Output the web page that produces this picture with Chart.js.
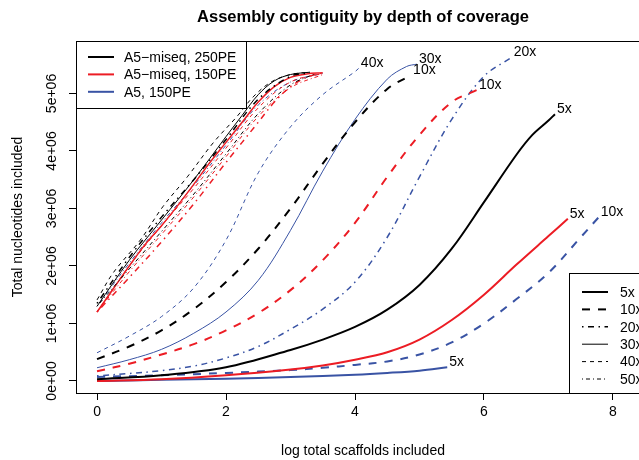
<!DOCTYPE html>
<html>
<head>
<meta charset="utf-8">
<script src="https://cdn.jsdelivr.net/npm/chart.js@4.4.1/dist/chart.umd.min.js"></script>
<style>
  html, body { margin: 0; padding: 0; background: #fff; overflow: hidden; }
  #wrap { width: 639px; height: 460px; overflow: hidden; }
</style>
</head>
<body>
<div id="wrap"><canvas id="contigChart" width="700" height="460"></canvas></div>
<script>
let contigChart; // global chart

const assemblers = ['A5\u2212miseq, 250PE', 'A5\u2212miseq, 150PE', 'A5, 150PE'];
const coverages = ['5x', '10x', '20x', '30x', '40x', '50x'];

const xTicks = [0, 2, 4, 6, 8];
const yTicks = [0, 1e6, 2e6, 3e6, 4e6, 5e6];
const yTickLabels = ['0e+00', '1e+06', '2e+06', '3e+06', '4e+06', '5e+06'];

// y values are in millions of nucleotides
// A5-miseq, 250PE (black)
const blk5x  = [0, 1, 2, 3, 3.5, 4, 4.5, 5, 5.5, 6, 6.5, 6.75, 7, 7.1];
const blk5y  = [0.03, 0.1, 0.24, 0.54, 0.72, 0.94, 1.24, 1.67, 2.3, 3.11, 3.93, 4.28, 4.53, 4.64];
const blk10x = [0, 0.5, 1, 1.5, 2, 2.5, 3, 3.5, 4, 4.5, 4.87];
const blk10y = [0.38, 0.6, 0.88, 1.25, 1.72, 2.3, 3.0, 3.78, 4.5, 5.08, 5.32];
const blk20x = [0, 0.5, 1, 1.5, 2, 2.5, 3, 3.3];
const blk20y = [1.35, 2.15, 2.85, 3.5, 4.2, 4.9, 5.3, 5.36];
const blk30x = [0, 0.5, 1, 1.5, 2, 2.25, 2.5, 2.75, 3, 3.3];
const blk30y = [1.3, 2.1, 2.8, 3.5, 4.25, 4.62, 4.98, 5.22, 5.33, 5.37];
const blk40x = [0, 0.25, 0.67, 1.02, 1.4, 1.8, 2.17, 2.42, 2.7, 3.0, 3.3];
const blk40y = [1.41, 1.88, 2.45, 3.03, 3.55, 4.14, 4.6, 4.94, 5.2, 5.33, 5.37];
const blk50x = [0, 0.5, 1, 1.5, 2, 2.5, 3, 3.4];
const blk50y = [1.3, 1.95, 2.6, 3.25, 3.95, 4.65, 5.15, 5.35];

// A5-miseq, 150PE (red)
const red5x  = [0, 1, 2, 3, 3.5, 4, 4.5, 5, 5.5, 6, 6.5, 7, 7.3];
const red5y  = [0, 0.03, 0.1, 0.2, 0.27, 0.37, 0.5, 0.72, 1.06, 1.5, 2.02, 2.52, 2.82];
const red10x = [0, 0.5, 1, 1.5, 2, 2.5, 3, 3.5, 4, 4.5, 5, 5.5, 5.89];
const red10y = [0.17, 0.3, 0.46, 0.64, 0.88, 1.18, 1.58, 2.1, 2.75, 3.55, 4.28, 4.85, 5.06];
const red20x = [0, 0.5, 1, 1.5, 2, 2.5, 2.75, 3, 3.25, 3.5];
const red20y = [1.2, 1.8, 2.42, 3.08, 3.8, 4.5, 4.85, 5.12, 5.28, 5.36];
const red30x = [0, 0.25, 0.5, 0.75, 1, 1.25, 1.5, 1.75, 2, 2.25, 2.5, 2.75, 3, 3.25, 3.5];
const red30y = [1.2, 1.6, 2.0, 2.38, 2.7, 3.05, 3.42, 3.8, 4.15, 4.5, 4.85, 5.12, 5.28, 5.34, 5.36];
const red40x = [0, 0.5, 1, 1.5, 2, 2.5, 3, 3.5];
const red40y = [1.2, 2.0, 2.7, 3.35, 4.05, 4.75, 5.2, 5.35];
const red50x = [0, 0.5, 1, 1.5, 2, 2.5, 3, 3.5];
const red50y = [1.2, 1.9, 2.55, 3.2, 3.9, 4.6, 5.1, 5.33];

// A5, 150PE (blue)
const blu5x  = [0, 1, 2, 3, 4, 4.5, 5, 5.43];
const blu5y  = [0, 0.02, 0.04, 0.07, 0.11, 0.14, 0.18, 0.24];
const blu10x = [0, 1, 2, 3, 3.5, 4, 4.5, 5, 5.5, 6, 6.5, 7, 7.5, 7.78];
const blu10y = [0.07, 0.1, 0.14, 0.19, 0.23, 0.28, 0.34, 0.46, 0.67, 1.0, 1.42, 1.88, 2.5, 2.85];
const blu20x = [0, 0.5, 1, 1.5, 2, 2.5, 3, 3.5, 4, 4.5, 5, 5.5, 6, 6.43];
const blu20y = [0.09, 0.13, 0.18, 0.26, 0.4, 0.6, 0.9, 1.25, 1.72, 2.5, 3.55, 4.55, 5.3, 5.63];
const blu30x = [0, 0.5, 1, 1.5, 2, 2.5, 3, 3.5, 4, 4.5, 4.8, 4.96];
const blu30y = [0.23, 0.37, 0.55, 0.83, 1.2, 1.75, 2.62, 3.65, 4.55, 5.25, 5.47, 5.51];
const blu40x = [0, 0.5, 1, 1.5, 2, 2.5, 3, 3.5, 4, 4.06];
const blu40y = [0.49, 0.78, 1.12, 1.62, 2.45, 3.62, 4.42, 4.98, 5.38, 5.44];
const blu50x = [0, 0.5, 1, 1.5, 2, 2.5, 3, 3.5];
const blu50y = [1.3, 2.05, 2.75, 3.4, 4.1, 4.8, 5.2, 5.35];

// curves that carry a coverage tag at their end
const taggedCurves = ['blk5', 'blk10', 'red5', 'red10', 'blu5', 'blu10', 'blu20', 'blu30', 'blu40'];

const colors = ['#000000', '#EC1C24', '#3953A4'];
const lineWidths = [2, 2, 1.5, 1, 1, 1];
const lineDashes = [[], [8, 8], [1.5, 4.5, 6, 4.5], [], [4, 4], [1, 3, 4, 3]];
const FONT = '"Liberation Sans", Arial, Helvetica, sans-serif';

const curves = {
    blk5: [blk5x, blk5y], blk10: [blk10x, blk10y], blk20: [blk20x, blk20y],
    blk30: [blk30x, blk30y], blk40: [blk40x, blk40y], blk50: [blk50x, blk50y],
    red5: [red5x, red5y], red10: [red10x, red10y], red20: [red20x, red20y],
    red30: [red30x, red30y], red40: [red40x, red40y], red50: [red50x, red50y],
    blu5: [blu5x, blu5y], blu10: [blu10x, blu10y], blu20: [blu20x, blu20y],
    blu30: [blu30x, blu30y], blu40: [blu40x, blu40y], blu50: [blu50x, blu50y]
};
const prefixes = ['blk', 'red', 'blu'];

function buildDatasets() {
    const sets = [];
    prefixes.forEach((p, a) => {
        coverages.forEach((cov, c) => {
            const key = p + parseInt(cov);
            const [xs, ys] = curves[key];
            sets.push({
                label: assemblers[a] + ' ' + cov,
                data: xs.map((x, i) => ({ x: x, y: ys[i] * 1e6 })),
                showLine: true,
                borderColor: colors[a],
                borderWidth: lineWidths[c] * (a === 1 && c === 3 ? 1.5 : 1),
                borderDash: lineDashes[c],
                borderCapStyle: 'butt',
                pointRadius: 0,
                tension: 0.35,
                tag: taggedCurves.includes(key) ? cov : null
            });
        });
    });
    return sets;
}

// coverage tags at the end of the curves
const curveTags = {
    id: 'curveTags',
    afterDatasetsDraw(chart) {
        const ctx = chart.ctx;
        ctx.save();
        ctx.font = '14px ' + FONT;
        ctx.fillStyle = '#000';
        ctx.textAlign = 'left';
        ctx.textBaseline = 'alphabetic';
        chart.data.datasets.forEach((ds, i) => {
            if (!ds.tag) return;
            const pts = chart.getDatasetMeta(i).data;
            const last = pts[pts.length - 1];
            ctx.fillText(ds.tag, last.x + 2, last.y - 1);
        });
        ctx.restore();
    }
};

// box, rotated y tick labels and the two legends
const frameAndLegends = {
    id: 'frameAndLegends',
    afterDraw(chart) {
        const ctx = chart.ctx;
        const area = chart.chartArea;
        const L = Math.round(area.left), T = Math.round(area.top);
        const R = Math.round(area.right), B = Math.round(area.bottom);
        ctx.save();
        ctx.strokeStyle = '#000';
        ctx.lineWidth = 1;
        ctx.setLineDash([]);
        ctx.strokeRect(L + 0.5, T + 0.5, R - L, B - T);

        // y tick labels, parallel to the axis
        ctx.font = '14px ' + FONT;
        ctx.fillStyle = '#000';
        const ys = chart.scales.y;
        yTicks.forEach((v, i) => {
            ctx.save();
            ctx.translate(L - 24, ys.getPixelForValue(v));
            ctx.rotate(-Math.PI / 2);
            ctx.textAlign = 'center';
            ctx.textBaseline = 'middle';
            ctx.fillText(yTickLabels[i], 0, 0);
            ctx.restore();
        });

        // legend of assemblers (top left)
        const rowH = 17.4;
        ctx.fillStyle = '#fff';
        ctx.fillRect(L + 0.5, T + 0.5, 170, 67);
        ctx.strokeRect(L + 0.5, T + 0.5, 170, 67);
        ctx.textAlign = 'left';
        ctx.textBaseline = 'middle';
        assemblers.forEach((name, i) => {
            const y = T + 16 + i * rowH;
            ctx.strokeStyle = colors[i];
            ctx.lineWidth = 2;
            ctx.beginPath();
            ctx.moveTo(L + 12, y);
            ctx.lineTo(L + 38, y);
            ctx.stroke();
            ctx.fillStyle = '#000';
            ctx.fillText(name, L + 48, y + 1);
        });

        // legend of coverages (bottom right)
        const bx = 569, by = 273;
        ctx.fillStyle = '#fff';
        ctx.fillRect(bx + 0.5, by + 0.5, R - bx, B - by);
        ctx.strokeStyle = '#000';
        ctx.lineWidth = 1;
        ctx.strokeRect(bx + 0.5, by + 0.5, R - bx, B - by);
        coverages.forEach((cov, i) => {
            const y = by + 19 + i * rowH;
            ctx.strokeStyle = '#000';
            ctx.lineWidth = lineWidths[i];
            ctx.setLineDash(lineDashes[i]);
            ctx.beginPath();
            ctx.moveTo(bx + 13, y);
            ctx.lineTo(bx + 39, y);
            ctx.stroke();
            ctx.setLineDash([]);
            ctx.fillStyle = '#000';
            ctx.fillText(cov, bx + 51, y + 1);
        });
        ctx.restore();
    }
};

function drawChart() {
    if (contigChart) {
        contigChart.destroy();
    }
    const ctx = document.getElementById('contigChart').getContext('2d');
    contigChart = new Chart(ctx, {
        type: 'scatter',
        data: { datasets: buildDatasets() },
        options: {
            responsive: false,
            animation: false,
            devicePixelRatio: 1,
            events: [],
            layout: { padding: { left: 0, top: 0, right: 50, bottom: 0 } },
            scales: {
                x: {
                    type: 'linear',
                    min: -0.326,
                    max: 8.574,
                    afterBuildTicks: s => { s.ticks = xTicks.map(v => ({ value: v })); },
                    afterFit: s => { s.height = 67; },
                    grid: { drawOnChartArea: false, drawTicks: true, tickLength: 7, color: '#000' },
                    border: { display: false },
                    ticks: { color: '#000', padding: 4, maxRotation: 0, font: { family: FONT, size: 14 } },
                    title: {
                        display: true,
                        text: 'log total scaffolds included',
                        color: '#000',
                        font: { family: FONT, size: 14 },
                        padding: { top: 0, bottom: 0 }
                    }
                },
                y: {
                    type: 'linear',
                    min: -0.209e6,
                    max: 5.913e6,
                    afterBuildTicks: s => { s.ticks = yTicks.map(v => ({ value: v })); },
                    afterFit: s => { s.width = 76; },
                    grid: { drawOnChartArea: false, drawTicks: true, tickLength: 7, color: '#000' },
                    border: { display: false },
                    ticks: { display: false },
                    title: {
                        display: true,
                        text: 'Total nucleotides included',
                        color: '#000',
                        font: { family: FONT, size: 14 },
                        padding: { top: 10, bottom: 0 }
                    }
                }
            },
            plugins: {
                legend: { display: false },
                tooltip: { enabled: false },
                title: {
                    display: true,
                    fullSize: false,
                    text: 'Assembly contiguity by depth of coverage',
                    color: '#000',
                    font: { family: FONT, size: 16.5, weight: 'bold' },
                    padding: { top: 8, bottom: 13.2 }
                }
            }
        },
        plugins: [curveTags, frameAndLegends]
    });
}

drawChart();
</script>
</body>
</html>
